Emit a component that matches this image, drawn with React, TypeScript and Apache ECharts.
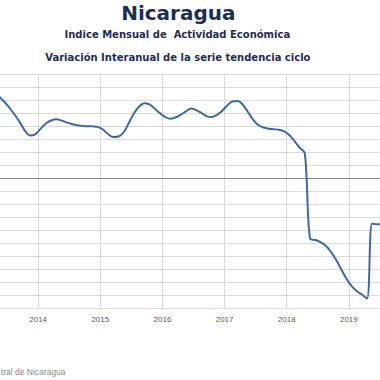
import React, { useEffect, useRef } from "react";
import * as echarts from "echarts";

// Monthly observations, Jan 2013 .. Jul 2019
const months: string[] = [];
for (let y = 2013; y <= 2019; y++) {
  for (let m = 1; m <= 12; m++) {
    months.push(`${y}-${String(m).padStart(2, "0")}`);
  }
}

const values: number[] = [
  // 2013
  7.0, 7.2, 7.1, 6.75, 6.27, 5.85, 5.39, 4.85, 4.27, 3.62, 3.28, 3.39,
  // 2014
  3.81, 4.2, 4.43, 4.52, 4.43, 4.29, 4.16, 4.06, 4.01, 3.99, 3.98, 3.94,
  // 2015
  3.74, 3.39, 3.16, 3.2, 3.51, 4.24, 4.97, 5.5, 5.76, 5.66, 5.35, 5.0,
  // 2016
  4.71, 4.56, 4.66, 4.87, 5.12, 5.35, 5.23, 5.02, 4.77, 4.7, 4.85, 5.16,
  // 2017
  5.58, 5.89, 5.92, 5.66, 5.08, 4.5, 4.08, 3.89, 3.8, 3.76, 3.72, 3.6,
  // 2018
  3.32, 2.85, 2.35, 1.9, -4.63, -4.74, -4.9, -5.17, -5.63, -6.24, -6.97, -7.7,
  // 2019
  -8.27, -8.66, -8.93, -9.23, -3.48, -3.54, -3.54,
];

const yearTicks = [2013, 2014, 2015, 2016, 2017, 2018, 2019, 2020];

const titleText = "Nicaragua";
const subtitle1 = "Indice Mensual de  Actividad Económica";
const subtitle2 = "Variación Interanual de la serie tendencia ciclo";
const sourceText = "tral de Nicaragua";

// The plot extends beyond the visible window on both sides
const OFFSET_X = 23.84;
const CHART_W = 435;

export default function App() {
  const ref = useRef<HTMLDivElement>(null);

  useEffect(() => {
    if (!ref.current) return;
    const chart = echarts.init(ref.current, null, { renderer: "svg" });

    const seriesData = values.map((v, i) => {
      const [yy, mm] = months[i].split("-").map(Number);
      return [yy + (mm - 0.5) / 12, v];
    });

    chart.setOption({
      animation: false,
      backgroundColor: "#ffffff",
      grid: {
        left: 0,
        right: 0,
        top: 74,
        bottom: 71.5,
        containLabel: false,
      },
      xAxis: {
        type: "value",
        min: yearTicks[0],
        max: yearTicks[yearTicks.length - 1],
        interval: 1,
        axisLine: { show: true, onZero: false, lineStyle: { color: "#d9d9d9", width: 1 } },
        axisTick: { show: false },
        axisLabel: {
          show: true,
          margin: 7,
          fontSize: 8,
          color: "#595959",
          fontFamily: "Liberation Sans",
          showMinLabel: false,
          showMaxLabel: false,
          formatter: (v: number) => String(Math.round(v)),
        },
        splitLine: { show: true, lineStyle: { color: "#d9d9d9", width: 1 } },
      },
      yAxis: {
        type: "value",
        min: -10,
        max: 8,
        interval: 1,
        axisLine: { show: false },
        axisTick: { show: false },
        axisLabel: { show: false },
        splitLine: { show: true, lineStyle: { color: "#d9d9d9", width: 1 } },
      },
      series: [
        {
          type: "line",
          data: seriesData,
          smooth: 0.35,
          showSymbol: false,
          symbol: "none",
          lineStyle: { color: "#3f69a0", width: 2 },
          z: 3,
          markLine: {
            silent: true,
            symbol: "none",
            label: { show: false },
            lineStyle: { color: "#868686", width: 1, type: "solid" },
            data: [{ yAxis: 0 }],
            z: 2,
          },
        },
      ],
      graphic: [
        {
          type: "text",
          x: 178.5 + OFFSET_X,
          y: 13,
          style: {
            text: titleText,
            fontSize: 20,
            fontWeight: "bold",
            fontFamily: "DejaVu Sans",
            fill: "#1f2d4f",
            textAlign: "center",
            textVerticalAlign: "middle",
          },
        },
        {
          type: "text",
          x: 177.5 + OFFSET_X,
          y: 34.5,
          style: {
            text: subtitle1,
            fontSize: 10,
            fontWeight: "bold",
            fontFamily: "DejaVu Sans",
            fill: "#1f2d4f",
            textAlign: "center",
            textVerticalAlign: "middle",
          },
        },
        {
          type: "text",
          x: 178 + OFFSET_X,
          y: 57.3,
          style: {
            text: subtitle2,
            fontSize: 10,
            fontWeight: "bold",
            fontFamily: "DejaVu Sans",
            fill: "#1f2d4f",
            textAlign: "center",
            textVerticalAlign: "middle",
          },
        },
        {
          type: "text",
          x: 1 + OFFSET_X,
          y: 372,
          style: {
            text: sourceText,
            fontSize: 8.5,
            fontFamily: "Liberation Sans",
            fill: "#8c8c8c",
            textAlign: "left",
            textVerticalAlign: "middle",
          },
        },
      ],
    });

    return () => chart.dispose();
  }, []);

  return (
    <div
      style={{
        position: "absolute",
        left: 0,
        top: 0,
        width: 380,
        height: 380,
        overflow: "hidden",
        background: "#ffffff",
      }}
    >
      <div
        ref={ref}
        style={{ position: "absolute", left: -OFFSET_X, top: 0, width: CHART_W, height: 380 }}
      />
    </div>
  );
}
